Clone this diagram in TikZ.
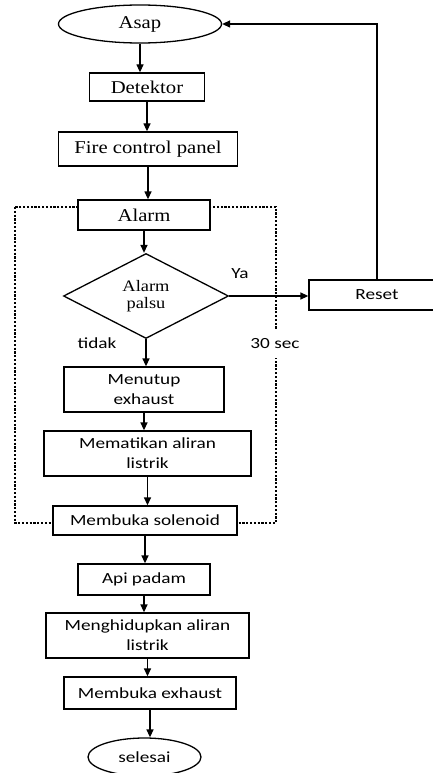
\documentclass[tikz,border=0pt]{standalone}
\usepackage{fontspec}
\setmainfont{Liberation Serif}[FakeStretch=1.15]
\newfontfamily\calibri{Carlito}[FakeStretch=1.24]
\usetikzlibrary{arrows.meta,shapes.geometric}

\begin{document}
\begin{tikzpicture}[x=1pt, y=-1pt, >={Triangle[length=8pt,width=7pt]},
    every node/.style={font=\fontsize{18}{21}\selectfont},
    box/.style={draw, line width=1.3pt, fill=white, inner sep=0pt, align=center},
    sbox/.style={box, font=\calibri\fontsize{15.5}{20}\selectfont},
    term/.style={draw, ellipse, line width=1.3pt, fill=white, inner sep=0pt},
    lbl/.style={font=\calibri\fontsize{15.5}{18}\selectfont, inner sep=1pt},
    flow/.style={->, line width=1.3pt}]
    \useasboundingbox (0,0) rectangle (433,773);

    % dotted frame round the alarm part
    \draw[line width=2.3pt, dash pattern=on 2.2pt off 1.6pt] (15,207) rectangle (276,523);

    \node[term, minimum width=163pt, minimum height=38pt] (asap) at (140,24) {Asap};
    \node[box, minimum width=115pt, minimum height=28pt] (det) at (147,87) {Detektor};
    \node[box, minimum width=179pt, minimum height=34pt] (fcp) at (148,149) {Fire control panel};
    \node[box, minimum width=132pt, minimum height=30pt] (alarm) at (144,215) {Alarm};
    \node[box, diamond, minimum width=165pt, minimum height=85pt,
          font=\fontsize{16}{17}\selectfont] (palsu) at (146,296) {Alarm\\palsu};
    \node[sbox, minimum width=136pt, minimum height=30pt] (reset) at (377,295) {Reset};
    \node[sbox, minimum width=160pt, minimum height=45pt] (tutup) at (144,389.5) {Menutup\\exhaust};
    \node[sbox, minimum width=207pt, minimum height=45pt] (mati) at (147.5,453.5) {Mematikan aliran\\listrik};
    \node[sbox, minimum width=184pt, minimum height=29pt] (solenoid) at (145,520.5) {Membuka solenoid};
    \node[sbox, minimum width=132pt, minimum height=31pt] (padam) at (144,579.5) {Api padam};
    \node[sbox, minimum width=203pt, minimum height=45pt] (hidup) at (147.5,635.5) {Menghidupkan aliran\\listrik};
    \node[sbox, minimum width=172pt, minimum height=32pt] (buka) at (150,693) {Membuka exhaust};
    \node[term, minimum width=113pt, minimum height=38pt, font=\calibri\fontsize{15.5}{18}\selectfont] (selesai) at (144.5,757) {selesai};

    \node[lbl] (ya) at (240,274) {Ya};
    \node[lbl] (tidak) at (97,343) {tidak};
    \node[lbl, fill=white, inner ysep=9pt] (detik) at (275,344) {30 sec};

    \draw[flow] (asap.south) -- (asap.south |- det.north);
    \draw[flow] (det.south) -- (det.south |- fcp.north);
    \draw[flow] (fcp.south) -- (fcp.south |- alarm.north);
    \draw[flow] (alarm.south) -- (alarm.south |- palsu.north);
    \draw[flow] (palsu.east) -- (palsu.east -| reset.west);
    \draw[flow] (reset.north) |- (asap.east);
    \draw[flow] (palsu.south) -- (palsu.south |- tutup.north);
    \draw[flow] (tutup.south) -- (tutup.south |- mati.north);
    \draw[flow] (mati.south) -- (mati.south |- solenoid.north);
    \draw[flow] (solenoid.south) -- (solenoid.south |- padam.north);
    \draw[flow] (padam.south) -- (padam.south |- hidup.north);
    \draw[flow] (hidup.south) -- (hidup.south |- buka.north);
    \draw[flow] (buka.south) -- (buka.south |- selesai.north);
\end{tikzpicture}
\end{document}
